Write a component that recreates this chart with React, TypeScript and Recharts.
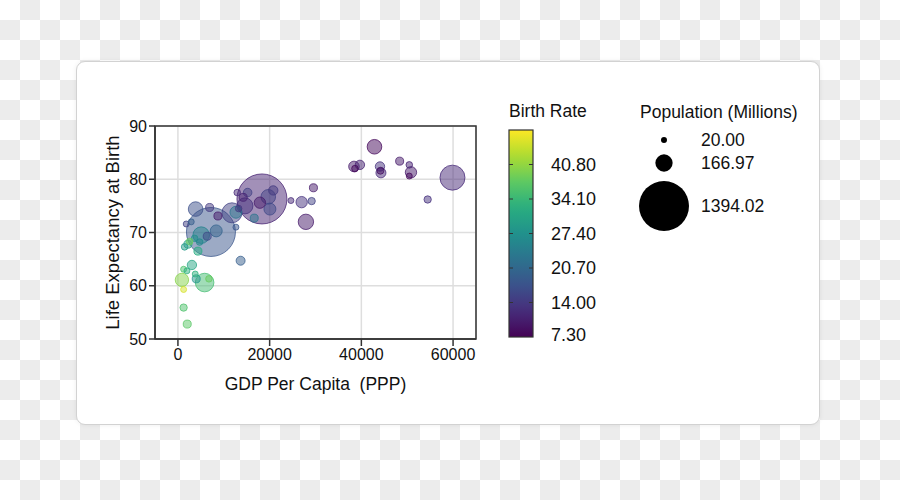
import React from "react";
import {
  ScatterChart,
  Scatter,
  XAxis,
  YAxis,
  ZAxis,
  CartesianGrid,
  Cell,
  ReferenceArea,
  Label,
} from "recharts";

// ---- data ----
const gdp = [
  18320, 7200, 3860, 6910, 8720, 1810, 2900, 5080, 8350, 6390, 3640, 2180, 2550, 4730, 1460, 4360,
  13670, 11780, 12650, 12650, 12930, 15200, 14240, 14610, 17880, 19700, 20790, 20060, 16640, 24640,
  26980, 29160, 29550, 27910, 42860, 38390, 39690, 38600, 44060, 44270, 44160, 48350, 50450, 50820,
  50450, 59870, 54460, 3050, 1240, 1960, 3770, 3990, 870, 5820, 6760, 1240, 1240, 2030, 13240,
];
const lifeExp = [
  76.3, 70.1, 74.4, 74.7, 73.1, 71.6, 72.0, 69.5, 70.3, 69.3, 68.9, 67.8, 68.3, 68.2, 67.3, 66.5,
  64.7, 73.7, 73.8, 71.0, 77.5, 77.5, 76.6, 75.0, 75.6, 76.7, 77.9, 74.4, 72.7, 76.0,
  75.7, 75.9, 78.4, 72.0, 86.1, 82.4, 82.7, 82.0, 82.4, 81.2, 81.6, 83.4, 82.7, 81.3,
  80.6, 80.3, 76.2, 63.9, 63.1, 62.8, 62.2, 61.3, 61.1, 60.6, 61.3, 59.3, 55.9, 52.8, 74.5,
];
const birthRate = [
  11, 18, 17, 14, 10, 15, 19, 25, 20, 16, 27, 30, 38, 26, 29, 32,
  19, 15, 23, 18, 12, 15, 11, 13, 10, 15, 14, 16, 23, 12,
  13, 15, 10, 10, 8, 10, 11, 8, 13, 12, 9, 10, 11, 10,
  8, 12, 13, 31, 36, 33, 33, 28, 40, 35, 38, 45, 36, 37, 14,
];
const population = [
  1394.02, 1340, 119, 36, 36, 20, 20, 154, 80, 36, 24, 36, 24, 24, 24, 36,
  45, 223, 80, 20, 24, 41, 36, 143, 72, 119, 49, 80, 36, 20,
  72, 30, 36, 132, 119, 63, 49, 24, 49, 56, 27, 36, 24, 72,
  20, 349, 30, 49, 20, 20, 20, 36, 100, 193, 24, 20, 30, 36, 24,
];

const xTicks = [0, 20000, 40000, 60000];
const yTicks = [50, 60, 70, 80, 90];
const xDomain = [-5000, 65000];
const yDomain = [50, 90];
const birthRateTicks = [7.3, 14.0, 20.7, 27.4, 34.1, 40.8];
const birthRateDomain = [7.3, 47.5];
const sizeLegendValues = [20.0, 166.97, 1394.02];
const popDomain = [0, 1394.02];
const MAX_R = 25;
const sizeRange = [0, Math.PI * MAX_R * MAX_R];

// ---- viridis ----
const viridisStops = [
  "#440154", "#472d7b", "#3b528b", "#2c728e", "#21918c", "#28ae80", "#5ec962", "#addc30", "#fde725",
];
function hexToRgb(h: string) {
  return [parseInt(h.slice(1, 3), 16), parseInt(h.slice(3, 5), 16), parseInt(h.slice(5, 7), 16)];
}
function viridisT(t: number) {
  const tt = Math.max(0, Math.min(1, t));
  const n = viridisStops.length - 1;
  const i = Math.min(n - 1, Math.floor(tt * n));
  const f = tt * n - i;
  const a = hexToRgb(viridisStops[i]);
  const b = hexToRgb(viridisStops[i + 1]);
  const c = a.map((v, k) => Math.round(v + (b[k] - v) * f));
  return `rgb(${c[0]},${c[1]},${c[2]})`;
}
function brColor(v: number) {
  return viridisT((v - birthRateDomain[0]) / (birthRateDomain[1] - birthRateDomain[0]));
}
function sizeRadius(p: number) {
  const s = sizeRange[0] + ((p - popDomain[0]) / (popDomain[1] - popDomain[0])) * (sizeRange[1] - sizeRange[0]);
  return Math.sqrt(s / Math.PI);
}

const rows = gdp
  .map((g, i) => ({ gdp: g, life: lifeExp[i], br: birthRate[i], pop: population[i] }))
  .sort((a, b) => b.pop - a.pop);

const FONT = "'Liberation Sans', Arial, sans-serif";

// layout
const PLOT_L = 155;
const PLOT_R = 476;
const PLOT_T = 126;
const PLOT_B = 339;
const Y_W = 60;
const X_H = 60;

const CB = { x: 509, y: 130, w: 24, h: 207 };

function Colorbar() {
  const yOf = (v: number) =>
    CB.y + CB.h - ((v - birthRateDomain[0]) / (birthRateDomain[1] - birthRateDomain[0])) * CB.h;
  const stops = [];
  for (let k = 0; k <= 20; k++) {
    const t = k / 20;
    stops.push(<stop key={k} offset={`${(1 - t) * 100}%`} stopColor={viridisT(t)} />);
  }
  return (
    <g>
      <defs>
        <linearGradient id="cbgrad" x1="0" y1="0" x2="0" y2="1">
          {stops.reverse()}
        </linearGradient>
      </defs>
      <text x={CB.x} y={111} fontSize={17.5} fill="#111" dominantBaseline="central" fontFamily={FONT}>
        Birth Rate
      </text>
      <rect x={CB.x} y={CB.y} width={CB.w} height={CB.h} fill="url(#cbgrad)" stroke="#333" strokeWidth={1.2} />
      {birthRateTicks.map((v) => (
        <g key={v}>
          {v !== birthRateDomain[0] && (
            <>
              <line x1={CB.x} x2={CB.x + 4} y1={yOf(v)} y2={yOf(v)} stroke="#333" strokeWidth={1} />
              <line x1={CB.x + CB.w - 4} x2={CB.x + CB.w} y1={yOf(v)} y2={yOf(v)} stroke="#333" strokeWidth={1} />
            </>
          )}
          <text
            x={551}
            y={v === birthRateDomain[0] ? yOf(v) - 2 : yOf(v)}
            fontSize={18}
            fill="#111"
            dominantBaseline="central"
            fontFamily={FONT}
          >
            {v.toFixed(2)}
          </text>
        </g>
      ))}
    </g>
  );
}

function SizeLegend() {
  const ys = [140, 163, 206];
  return (
    <g>
      <text x={640} y={112} fontSize={17.5} fill="#111" dominantBaseline="central" fontFamily={FONT}>
        Population (Millions)
      </text>
      {sizeLegendValues.map((v, i) => (
        <g key={v}>
          <circle cx={664} cy={ys[i]} r={sizeRadius(v)} fill="#000" />
          <text x={701} y={ys[i]} fontSize={17.5} fill="#111" dominantBaseline="central" fontFamily={FONT}>
            {v.toFixed(2)}
          </text>
        </g>
      ))}
    </g>
  );
}

export default function App() {
  return (
    <div
      style={{
        position: "absolute",
        left: 0,
        top: 0,
        width: 900,
        height: 500,
        overflow: "hidden",
        background: "#fff",
        fontFamily: FONT,
      }}
    >
      <svg width={900} height={500} style={{ position: "absolute", left: 0, top: 0 }}>
        <defs>
          <pattern id="checker" x={0} y={0} width={40} height={40} patternUnits="userSpaceOnUse">
            <rect x={0} y={0} width={40} height={40} fill="#ffffff" />
            <rect x={20} y={0} width={20} height={20} fill="#ececec" />
            <rect x={0} y={20} width={20} height={20} fill="#ececec" />
          </pattern>
        </defs>
        <rect x={0} y={0} width={900} height={500} fill="url(#checker)" />
      </svg>
      <div
        style={{
          position: "absolute",
          left: 76,
          top: 61,
          width: 742,
          height: 362,
          background: "#fff",
          border: "1px solid #d2d2d2",
          borderRadius: 9,
          boxShadow: "0 0 5px rgba(0,0,0,0.07)",
        }}
      />
      <div style={{ position: "absolute", left: 0, top: 0 }}>
        <ScatterChart
          width={900}
          height={500}
          margin={{
            top: PLOT_T,
            left: PLOT_L - Y_W,
            right: 900 - PLOT_R,
            bottom: 500 - PLOT_B - X_H,
          }}
        >
          <CartesianGrid stroke="#dedede" strokeWidth={1.5} />
          <XAxis
            type="number"
            dataKey="gdp"
            domain={xDomain}
            ticks={xTicks}
            height={X_H}
            allowDataOverflow
            stroke="#333"
            strokeWidth={1.5}
            tickSize={7}
            tickMargin={3}
            tick={{ fontSize: 16, fill: "#111", fontFamily: FONT }}
          >
            <Label
              value={"GDP Per Capita\u00a0 (PPP)"}
              position="insideBottom"
              offset={9}
              style={{ fontSize: 17.5, fill: "#111", fontFamily: FONT }}
            />
          </XAxis>
          <YAxis
            type="number"
            dataKey="life"
            domain={yDomain}
            ticks={yTicks}
            width={Y_W}
            allowDataOverflow
            stroke="#333"
            strokeWidth={1.5}
            tickSize={6}
            tickMargin={2}
            tick={{ fontSize: 16, fill: "#111", fontFamily: FONT }}
          >
            <Label
              value="Life Expectancy at Birth"
              angle={-90}
              position="insideLeft"
              offset={17}
              style={{ fontSize: 18.5, fill: "#111", fontFamily: FONT, textAnchor: "middle" }}
            />
          </YAxis>
          <ZAxis type="number" dataKey="pop" domain={popDomain} range={sizeRange} />
          <Scatter data={rows} isAnimationActive={false} shape="circle">
            {rows.map((r, i) => (
              <Cell
                key={i}
                fill={brColor(r.br)}
                fillOpacity={0.5}
                stroke={brColor(r.br)}
                strokeOpacity={0.75}
                strokeWidth={1}
              />
            ))}
          </Scatter>
          <ReferenceArea
            x1={xDomain[0]}
            x2={xDomain[1]}
            y1={yDomain[0]}
            y2={yDomain[1]}
            fill="none"
            fillOpacity={0}
            stroke="#333"
            strokeWidth={1.5}
          />
        </ScatterChart>
      </div>
      <svg
        width={900}
        height={500}
        style={{ position: "absolute", left: 0, top: 0, pointerEvents: "none" }}
      >
        <Colorbar />
        <SizeLegend />
      </svg>
    </div>
  );
}
